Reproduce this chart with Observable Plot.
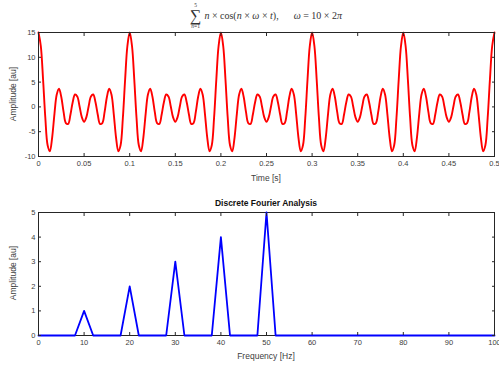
<!DOCTYPE html>
<html>
<head>
<meta charset="utf-8">
<script src="https://cdn.jsdelivr.net/npm/d3@7"></script>
<script src="https://cdn.jsdelivr.net/npm/@observablehq/plot@0.6"></script>
<style>
  html, body { margin: 0; padding: 0; background: white; }
  #wrap { position: relative; width: 499px; height: 366px; overflow: hidden; font-family: "Liberation Sans", Arial, sans-serif; }
  .abs { position: absolute; }
  .lbl { font-size: 8.5px; color: #404040; white-space: nowrap; }
  #title { position: absolute; top: 0; left: 0; width: 532px; height: 30px; display: flex; justify-content: center; align-items: center; font-family: "Liberation Serif", "DejaVu Serif", serif; color: #333; }
  .sum { display: inline-flex; flex-direction: column; align-items: center; margin-right: 3px; }
  .sum .lim { font-size: 5.5px; line-height: 6px; }
  .sum .sig { font-size: 16px; line-height: 15px; }
  .expr { font-size: 10px; }
  .expr i { font-style: italic; }
</style>
</head>
<body>
<div id="wrap">
  <div id="title">
    <span class="sum"><span class="lim">5</span><span class="sig">∑</span><span class="lim"><i>n</i>=1</span></span>
    <span class="expr"><i>n</i> × cos(<i>n</i> × <i>ω</i> × <i>t</i>),&nbsp;&nbsp;&nbsp;&nbsp;&nbsp;&nbsp;<i>ω</i> = 10 × 2<i>π</i></span>
  </div>
  <div id="top" class="abs" style="left:0; top:28px;"></div>
  <div id="bottom" class="abs" style="left:0; top:193px;"></div>
  <div class="abs lbl" style="left:13px; top:94px; transform: translate(-50%,-50%) rotate(-90deg);">Amplitude [au]</div>
  <div class="abs lbl" style="left:266px; top:178px; transform: translate(-50%,-50%);">Time [s]</div>
  <div class="abs lbl" style="left:266px; top:203px; transform: translate(-50%,-50%); font-weight:bold; color:#111;">Discrete Fourier Analysis</div>
  <div class="abs lbl" style="left:13px; top:273px; transform: translate(-50%,-50%) rotate(-90deg);">Amplitude [au]</div>
  <div class="abs lbl" style="left:266px; top:356px; transform: translate(-50%,-50%);">Frequency [Hz]</div>
</div>
<script>
const sampleStep = 0.0025;
const signalValues = [
  15,12.33,5.57,-2.24,-7.74,-8.95,-6.12,-1.39,2.5,3.66,2,-1,-3.26,-3.44,-1.59,0.95,2.5,2.11,0.14,-2.06,-3,-2.06,0.14,2.11,2.5,0.95,-1.59,-3.44,-3.26,-1,2,3.66,2.5,-1.39,-6.12,-8.95,-7.74,-2.24,5.57,12.33,
  15,12.33,5.57,-2.24,-7.74,-8.95,-6.12,-1.39,2.5,3.66,2,-1,-3.26,-3.44,-1.59,0.95,2.5,2.11,0.14,-2.06,-3,-2.06,0.14,2.11,2.5,0.95,-1.59,-3.44,-3.26,-1,2,3.66,2.5,-1.39,-6.12,-8.95,-7.74,-2.24,5.57,12.33,
  15,12.33,5.57,-2.24,-7.74,-8.95,-6.12,-1.39,2.5,3.66,2,-1,-3.26,-3.44,-1.59,0.95,2.5,2.11,0.14,-2.06,-3,-2.06,0.14,2.11,2.5,0.95,-1.59,-3.44,-3.26,-1,2,3.66,2.5,-1.39,-6.12,-8.95,-7.74,-2.24,5.57,12.33,
  15,12.33,5.57,-2.24,-7.74,-8.95,-6.12,-1.39,2.5,3.66,2,-1,-3.26,-3.44,-1.59,0.95,2.5,2.11,0.14,-2.06,-3,-2.06,0.14,2.11,2.5,0.95,-1.59,-3.44,-3.26,-1,2,3.66,2.5,-1.39,-6.12,-8.95,-7.74,-2.24,5.57,12.33,
  15,12.33,5.57,-2.24,-7.74,-8.95,-6.12,-1.39,2.5,3.66,2,-1,-3.26,-3.44,-1.59,0.95,2.5,2.11,0.14,-2.06,-3,-2.06,0.14,2.11,2.5,0.95,-1.59,-3.44,-3.26,-1,2,3.66,2.5,-1.39,-6.12,-8.95,-7.74,-2.24,5.57,12.33,
  15
];
const timeTicks = [0,0.05,0.1,0.15,0.2,0.25,0.3,0.35,0.4,0.45,0.5];
const timeTickLabels = ["0","0.05","0.1","0.15","0.2","0.25","0.3","0.35","0.4","0.45","0.5"];
const ampTicksTop = [-10,-5,0,5,10,15];

// ---- Spectrum
const freqs = [0,8,10,12,18,20,22,28,30,32,38,40,42,48,50,52,100];
const amps  = [0,0,1,0,0,2,0,0,3,0,0,4,0,0,5,0,0];
const freqTicks = [0,10,20,30,40,50,60,70,80,90,100];
const ampTicksBottom = [0,1,2,3,4,5];

const sig = signalValues.map((v, i) => ({t: i * sampleStep, v}));
const spec = freqs.map((f, i) => ({f, a: amps[i]}));

const axisColor = "#262626";
const style = {fontFamily: "'Liberation Sans', Arial, sans-serif", fontSize: "7.5px", color: "#404040", background: "white", overflow: "visible"};
const plain = d => String(d);

const topPlot = Plot.plot({
  width: 499, height: 165,
  marginLeft: 38, marginRight: 5, marginTop: 4, marginBottom: 37,
  style,
  x: {domain: [0, 0.5]},
  y: {domain: [-10, 15]},
  marks: [
    Plot.line(sig, {x: "t", y: "v", stroke: "#ff0000", strokeWidth: 1.9, curve: "catmull-rom"}),
    Plot.frame({stroke: axisColor, strokeWidth: 1}),
    Plot.axisX({ticks: timeTicks, tickFormat: (d, i) => timeTickLabels[i], tickSize: -3, tickPadding: 7, stroke: axisColor, label: null}),
    Plot.axisX({anchor: "top", ticks: timeTicks, tickSize: -3, text: null, stroke: axisColor, label: null}),
    Plot.axisY({ticks: ampTicksTop, tickFormat: plain, tickSize: -3, tickPadding: 6, stroke: axisColor, label: null}),
    Plot.axisY({anchor: "right", ticks: ampTicksTop, tickSize: -3, text: null, stroke: axisColor, label: null})
  ]
});
document.getElementById("top").appendChild(topPlot);

const bottomPlot = Plot.plot({
  width: 499, height: 173,
  marginLeft: 38, marginRight: 5, marginTop: 19, marginBottom: 31,
  style,
  x: {domain: [0, 100]},
  y: {domain: [0, 5]},
  marks: [
    Plot.frame({stroke: axisColor, strokeWidth: 1}),
    Plot.line(spec, {x: "f", y: "a", stroke: "#0000ff", strokeWidth: 1.8}),
    Plot.axisX({ticks: freqTicks, tickFormat: plain, tickSize: -3, tickPadding: 7, stroke: axisColor, label: null}),
    Plot.axisX({anchor: "top", ticks: freqTicks, tickSize: -3, text: null, stroke: axisColor, label: null}),
    Plot.axisY({ticks: ampTicksBottom, tickFormat: plain, tickSize: -3, tickPadding: 6, stroke: axisColor, label: null}),
    Plot.axisY({anchor: "right", ticks: ampTicksBottom, tickSize: -3, text: null, stroke: axisColor, label: null})
  ]
});
document.getElementById("bottom").appendChild(bottomPlot);
</script>
</body>
</html>
